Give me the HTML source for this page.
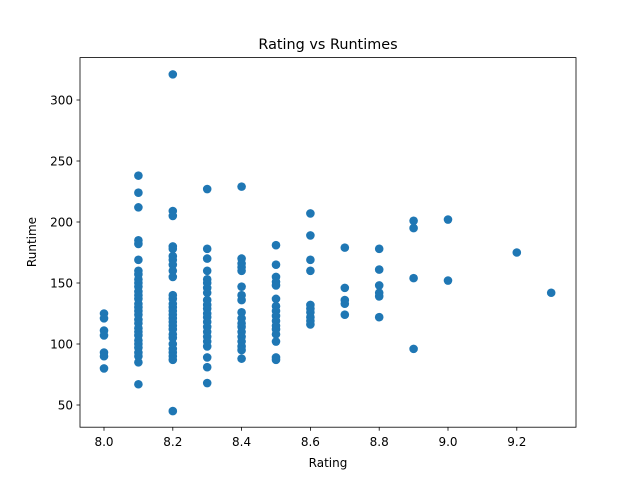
<!DOCTYPE html>
<html><head><meta charset="utf-8"><style>
body{margin:0;background:#fff}
svg text{font-family:"DejaVu Sans","Liberation Sans",sans-serif;fill:#000}
</style></head><body>
<svg width="640" height="480">
<rect width="640" height="480" fill="#fff"/>
<g id="pts"></g>
<rect x="80" y="57.6" width="496" height="369.6" fill="none" stroke="#000" stroke-width="0.8"/>
<g id="axes"></g>
<text x="328" y="49" text-anchor="middle" font-size="14.4">Rating vs Runtimes</text>
<text x="328" y="467" text-anchor="middle" font-size="12">Rating</text>
<text transform="translate(36,242) rotate(-90)" text-anchor="middle" font-size="12">Runtime</text>
</svg>
<script>
const ratings=[8.0,8.1,8.2,8.3,8.4,8.5,8.6,8.7,8.8,8.9,9.0,9.2,9.3];
const runtimes=[
[125,121,111,107,93,90,80],
[238,224,212,185,182,169,160,157,153,150,147,143,140,137,133,130,127,124,120,117,113,110,107,103,100,97,93,90,85,67],
[321,209,205,180,178,172,169,165,160,155,140,137,133,130,127,124,121,118,115,112,108,105,100,96,93,90,87,45],
[227,178,170,160,153,150,146,142,136,132,129,125,122,118,114,110,106,102,98,89,81,68],
[229,170,166,163,160,147,140,136,126,121,117,114,110,106,102,98,95,88],
[181,165,155,151,148,137,131,127,123,119,115,112,108,102,89,87],
[207,189,169,160,132,129,126,122,119,116],
[179,146,136,133,124],
[178,161,148,142,139,122],
[201,195,154,96],
[202,152],
[175],
[142]];
const xTicks=[8.0,8.2,8.4,8.6,8.8,9.0,9.2];
const yTicks=[50,100,150,200,250,300];
const NS="http://www.w3.org/2000/svg";
const xs=v=>104+(v-8.0)*344;
const ys=v=>344-(v-100)*1.22;
const pts=document.getElementById('pts');
ratings.forEach((r,i)=>runtimes[i].forEach(v=>{
 const c=document.createElementNS(NS,'circle');
 c.setAttribute('cx',xs(r));c.setAttribute('cy',ys(v));c.setAttribute('r',4.3);c.setAttribute('fill','#1f77b4');
 
 
 pts.appendChild(c);
}));
const ax=document.getElementById('axes');
xTicks.forEach(t=>{
 const x=xs(t);
 const l=document.createElementNS(NS,'line');
 l.setAttribute('x1',x);l.setAttribute('x2',x);l.setAttribute('y1',427.2);l.setAttribute('y2',430.7);l.setAttribute('stroke','#000');l.setAttribute('stroke-width',0.8);
 
 
 ax.appendChild(l);
 const tx=document.createElementNS(NS,'text');
 tx.setAttribute('x',x);tx.setAttribute('y',446);tx.setAttribute('text-anchor','middle');tx.setAttribute('font-size','12');
 tx.textContent=t.toFixed(1);
 
 
 ax.appendChild(tx);
});
yTicks.forEach(t=>{
 const y=ys(t);
 const l=document.createElementNS(NS,'line');
 l.setAttribute('x1',76.5);l.setAttribute('x2',80);l.setAttribute('y1',y);l.setAttribute('y2',y);l.setAttribute('stroke','#000');l.setAttribute('stroke-width',0.8);
 
 
 ax.appendChild(l);
 const tx=document.createElementNS(NS,'text');
 tx.setAttribute('x',73);tx.setAttribute('y',y+4.5);tx.setAttribute('text-anchor','end');tx.setAttribute('font-size','12');
 tx.textContent=t;
 
 
 ax.appendChild(tx);
});
</script>
</body></html>
